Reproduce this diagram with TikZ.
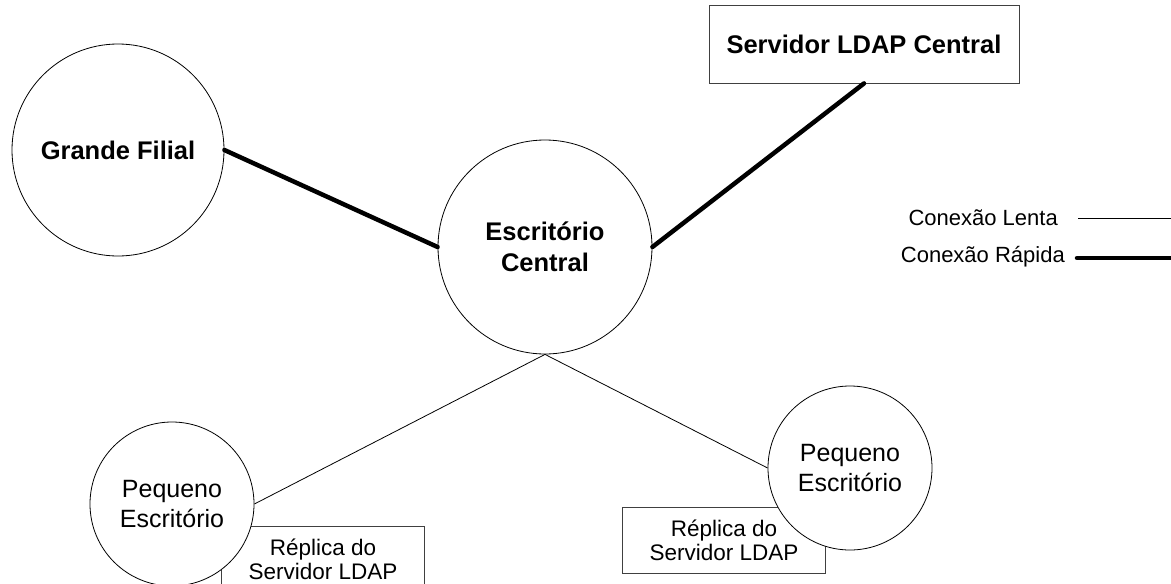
\documentclass[tikz,border=0pt]{standalone}
\usepackage{fontspec}
\setmainfont{Liberation Sans}
\usetikzlibrary{positioning}

\begin{document}
\begin{tikzpicture}
      [x=1pt, y=-1pt,
       site/.style={circle, draw, fill=white, line width=0.8pt, inner sep=0pt, align=center},
       sitebig/.style={site, font=\fontsize{25.5pt}{31pt}\selectfont\bfseries},
       sitesmall/.style={site, minimum size=164pt, font=\fontsize{25pt}{30pt}\selectfont},
       server/.style={rectangle, draw=black!75, fill=white, line width=0.8pt, inner sep=0pt, align=center},
       replica/.style={server, minimum width=203pt, minimum height=66pt, font=\fontsize{22.5pt}{24pt}\selectfont},
       legend/.style={inner sep=0pt, anchor=east, font=\fontsize{22pt}{26pt}\selectfont},
       fast/.style={line width=4.5pt, line cap=round},
       slow/.style={line width=0.8pt}]
      \useasboundingbox (0,0) rectangle (1171,584);

      % boxes %
      \node[server, minimum width=310pt, minimum height=78pt, font=\fontsize{25.5pt}{31pt}\selectfont\bfseries] (ldap) at (864,44) {Servidor LDAP Central};
      \node[replica] (repa) at (323,559) {Réplica do\\Servidor LDAP};
      \node[replica] (repb) at (724,540) {Réplica do\\Servidor LDAP};

      % nodes %
      \node[sitebig, minimum size=212pt] (grande) at (118,150) {Grande Filial};
      \node[sitebig, minimum size=214pt] (central) at (545,247) {Escritório\\Central};
      \node[sitesmall] (pequenoa) at (172,504) {Pequeno\\Escritório};
      \node[sitesmall] (pequenob) at (850,468) {Pequeno\\Escritório};

      % legend %
      \node[legend] (lenta) at (1058,218) {Conexão Lenta};
      \node[legend] (rapida) at (1065,257) {Conexão Rápida};
      \coordinate (lentaA) at (1078,218);
      \coordinate (lentaB) at (1171,218);
      \coordinate (rapidaA) at (1077,258);
      \coordinate (rapidaB) at (1171,258);

      % edges %
      \draw[fast] (grande.east) -- (central.west);
      \draw[fast] (central.east) -- (ldap.south);
      \draw[slow] (central.south) -- (pequenoa.east);
      \draw[slow] (central.south) -- (pequenob.west);

      \draw[slow] (lentaA) -- (lentaB);
      \draw[fast] (rapidaA) -- (rapidaB);

    \end{tikzpicture}
\end{document}
